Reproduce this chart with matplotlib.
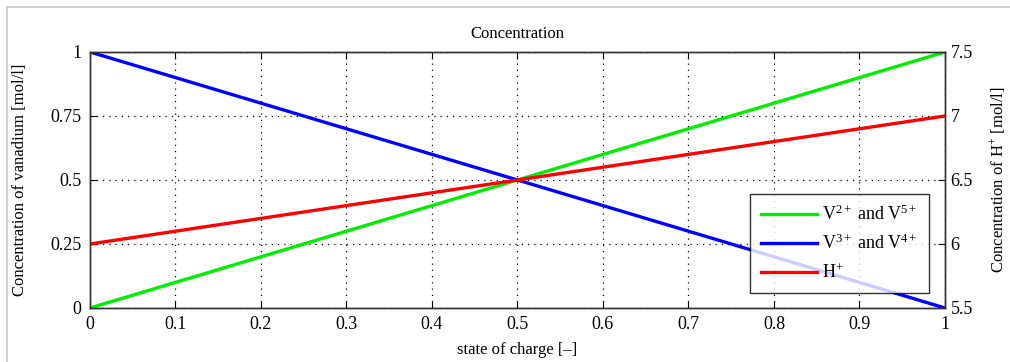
import matplotlib.pyplot as plt
from matplotlib.lines import Line2D

plt.rcParams['font.family'] = ['Liberation Serif', 'DejaVu Serif']
plt.rcParams['mathtext.fontset'] = 'custom'
plt.rcParams['mathtext.rm'] = 'Liberation Serif'
plt.rcParams['mathtext.it'] = 'Liberation Serif:italic'

# data
soc = [0, 1]
v2_v5 = [0, 1]
v3_v4 = [1, 0]
h_plus = [6, 7]

x_ticks = [0, 0.1, 0.2, 0.3, 0.4, 0.5, 0.6, 0.7, 0.8, 0.9, 1]
x_labels = ['0', '0.1', '0.2', '0.3', '0.4', '0.5', '0.6', '0.7', '0.8', '0.9', '1']
y_ticks = [0, 0.25, 0.5, 0.75, 1]
y_labels = ['0', '0.25', '0.5', '0.75', '1']
y2_ticks = [5.5, 6, 6.5, 7, 7.5]
y2_labels = ['5.5', '6', '6.5', '7', '7.5']

fig = plt.figure(figsize=(10.1, 3.62), dpi=100)
ax = fig.add_axes([0.0891, 0.1492, 0.8465, 0.7072])

# light frame around the picture
fig.add_artist(Line2D([0.007, 1.0], [0.981, 0.981], color='#c8c8c8', lw=1.2))
fig.add_artist(Line2D([0.007, 0.007], [0.0, 0.981], color='#c8c8c8', lw=1.2))

l1, = ax.plot(soc, v2_v5, color='#00ee00', lw=2.4, label=r'V$^{\mathrm{2+}}$ and V$^{\mathrm{5+}}$')
l2, = ax.plot(soc, v3_v4, color='#0000ff', lw=2.4, label=r'V$^{\mathrm{3+}}$ and V$^{\mathrm{4+}}$')
ax.set_xlim(0, 1)
ax.set_ylim(0, 1)
ax.set_xticks(x_ticks)
ax.set_xticklabels(x_labels)
ax.set_yticks(y_ticks)
ax.set_yticklabels(y_labels)
ax.grid(True, color='black', linestyle=(0, (1, 4)), lw=0.9)
ax.tick_params(direction='in', top=True, length=5, labelsize=13, pad=6)
ax.set_title('Concentration', fontsize=12, pad=10)
ax.set_xlabel('state of charge [\u2013]', fontsize=12, labelpad=6)
ax.set_ylabel('Concentration of vanadium [mol/l]', fontsize=12, labelpad=16)

ax2 = ax.twinx()
l3, = ax2.plot(soc, h_plus, color='#ff0000', lw=2.4, label=r'H$^{\mathrm{+}}$')
ax2.set_ylim(5.5, 7.5)
ax2.set_yticks(y2_ticks)
ax2.set_yticklabels(y2_labels)
ax2.tick_params(direction='in', length=5, labelsize=13, pad=4)
ax2.set_ylabel(r'Concentration of H$^{\mathrm{+}}$ [mol/l]', fontsize=12, labelpad=11)

for a in (ax, ax2):
    for s in a.spines.values():
        s.set_linewidth(1.0)
        s.set_color('#333333')

leg = ax2.legend(handles=[l1, l2, l3], loc='lower right',
                 bbox_to_anchor=(0.981, 0.059), borderaxespad=0, fontsize=13,
                 frameon=True, fancybox=False, edgecolor='black',
                 handlelength=3.1, labelspacing=0.55, borderpad=0.6,
                 handletextpad=0.3)
leg.get_frame().set_linewidth(1.0)

fig.savefig('out.png', dpi=100)
